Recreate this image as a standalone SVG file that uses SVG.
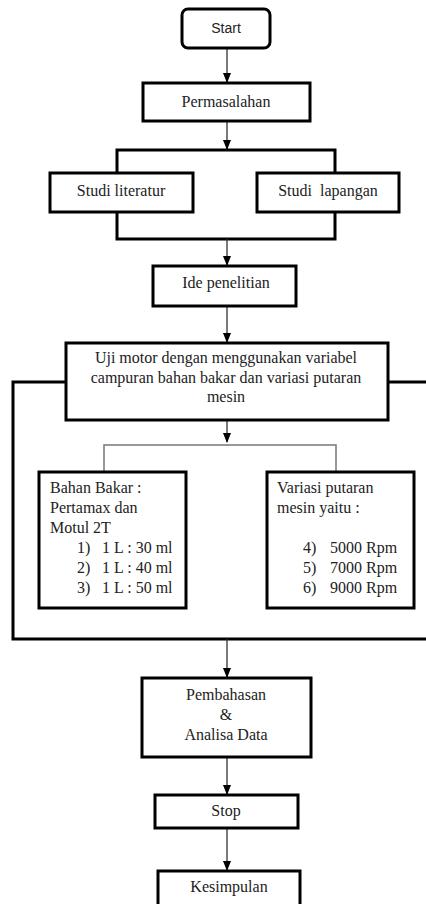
<svg xmlns="http://www.w3.org/2000/svg" width="426" height="904" viewBox="0 0 426 904">
<style>
.box{fill:#fff;stroke:#000;stroke-width:3}
.t{font-family:"Liberation Serif","Times New Roman",serif;font-size:16px;fill:#222}
.c{text-anchor:middle}
.ln{fill:none;stroke:#000;stroke-width:3}
.th{fill:none;stroke:#333;stroke-width:1.3}
.g{fill:none;stroke:#777;stroke-width:1.5}
</style>
<defs>
<marker id="ah" markerWidth="10" markerHeight="10" refX="9" refY="5" orient="auto" markerUnits="userSpaceOnUse">
<path d="M0,1 L10,5 L0,9 Z" fill="#000"/>
</marker>
</defs>
<g id="connectors">
<line class="th" x1="227" y1="48" x2="227" y2="82" marker-end="url(#ah)"/>
<line class="th" x1="227" y1="121" x2="227" y2="149" marker-end="url(#ah)"/>
<polyline class="ln" points="117,173 117,150 335,150 335,173"/>
<polyline class="ln" points="117,212 117,239 335,239 335,212"/>
<line class="th" x1="227" y1="239" x2="227" y2="265" marker-end="url(#ah)"/>
<line class="th" x1="227" y1="306" x2="227" y2="342" marker-end="url(#ah)"/>
<line class="th" x1="227" y1="420" x2="227" y2="442" marker-end="url(#ah)"/>
<polyline class="g" points="104,472 104,445 336,445 336,472"/>
<polyline class="ln" points="66,382 13,382 13,639 426,639"/>
<line class="ln" x1="388" y1="382" x2="426" y2="382"/>
<line class="th" x1="227" y1="639" x2="227" y2="677" marker-end="url(#ah)"/>
<line class="th" x1="227" y1="757" x2="227" y2="794" marker-end="url(#ah)"/>
<line class="th" x1="227" y1="828" x2="227" y2="870" marker-end="url(#ah)"/>
</g>
<g id="start">
<rect class="box" x="182" y="9" width="88" height="39" rx="6"/>
<text x="226" y="33" text-anchor="middle" font-family="Liberation Sans, Arial, sans-serif" font-size="14" fill="#222">Start</text>
</g>
<g id="permasalahan">
<rect class="box" x="143" y="83" width="167" height="38"/>
<text class="t c" x="226" y="107">Permasalahan</text>
</g>
<g id="studi-literatur">
<rect class="box" x="50" y="173" width="143" height="39"/>
<text class="t c" x="121" y="196">Studi literatur</text>
</g>
<g id="studi-lapangan">
<rect class="box" x="257" y="173" width="142" height="39"/>
<text class="t c" x="328" y="196" xml:space="preserve">Studi  lapangan</text>
</g>
<g id="ide-penelitian">
<rect class="box" x="153" y="266" width="143" height="40"/>
<text class="t c" x="226" y="288">Ide penelitian</text>
</g>
<g id="uji-motor">
<rect class="box" x="66" y="343" width="322" height="77"/>
<text class="t c" x="226" y="363">Uji motor dengan menggunakan variabel</text>
<text class="t c" x="226" y="383">campuran bahan bakar dan variasi putaran</text>
<text class="t c" x="226" y="402">mesin</text>
</g>
<g id="bahan-bakar">
<rect class="box" x="39" y="472" width="147" height="136"/>
<text class="t" x="50" y="493">Bahan Bakar :</text>
<text class="t" x="50" y="513">Pertamax dan</text>
<text class="t" x="50" y="533">Motul 2T</text>
<text class="t" x="77" y="553">1)</text><text class="t" x="102" y="553">1 L : 30 ml</text>
<text class="t" x="77" y="573">2)</text><text class="t" x="102" y="573">1 L : 40 ml</text>
<text class="t" x="77" y="593">3)</text><text class="t" x="102" y="593">1 L : 50 ml</text>
</g>
<g id="variasi-putaran">
<rect class="box" x="267" y="472" width="147" height="136"/>
<text class="t" x="277" y="493">Variasi putaran</text>
<text class="t" x="277" y="513">mesin yaitu :</text>
<text class="t" x="303" y="553">4)</text><text class="t" x="330" y="553">5000 Rpm</text>
<text class="t" x="303" y="573">5)</text><text class="t" x="330" y="573">7000 Rpm</text>
<text class="t" x="303" y="593">6)</text><text class="t" x="330" y="593">9000 Rpm</text>
</g>
<g id="pembahasan">
<rect class="box" x="142" y="678" width="169" height="79"/>
<text class="t c" x="226" y="700">Pembahasan</text>
<text class="t c" x="226" y="720">&amp;</text>
<text class="t c" x="226" y="740">Analisa Data</text>
</g>
<g id="stop">
<rect class="box" x="155" y="795" width="143" height="33"/>
<text class="t c" x="226" y="816">Stop</text>
</g>
<g id="kesimpulan">
<rect class="box" x="158" y="871" width="142" height="40"/>
<text class="t c" x="229" y="892">Kesimpulan</text>
</g>
</svg>
